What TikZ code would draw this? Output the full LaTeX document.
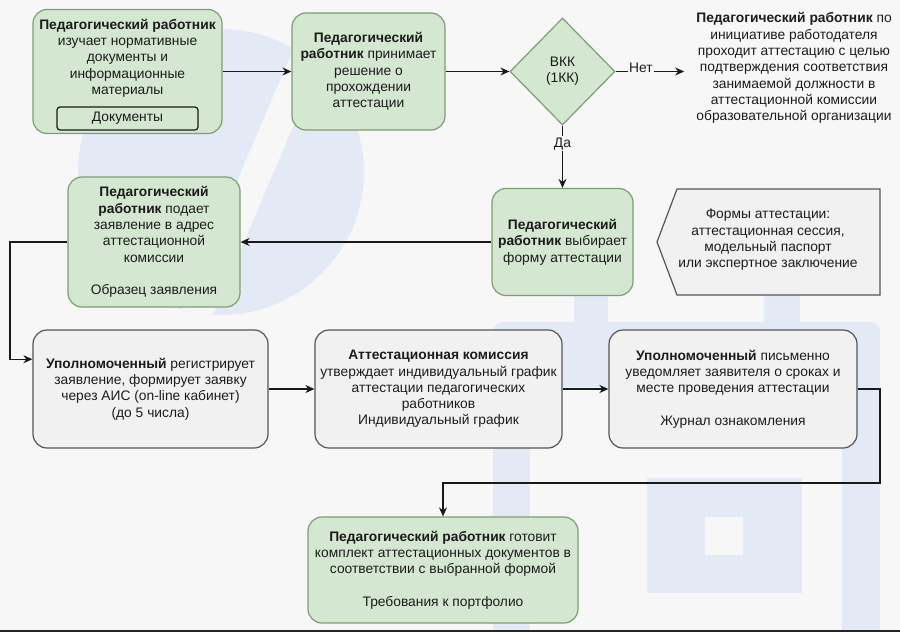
\documentclass[tikz,border=0pt]{standalone}
\usepackage{fontspec}
\setmainfont{Liberation Sans}
\usetikzlibrary{shapes.geometric,arrows.meta,calc}
\definecolor{bgc}{RGB}{247,247,247}
\definecolor{wm}{RGB}{227,234,246}
\definecolor{gfill}{RGB}{212,231,208}
\definecolor{gdraw}{RGB}{125,158,115}
\definecolor{grfill}{RGB}{241,241,241}
\definecolor{grdraw}{RGB}{85,85,85}
\definecolor{ln}{RGB}{25,25,25}
\definecolor{tx}{RGB}{28,28,28}
\begin{document}
\begin{tikzpicture}[x=1pt,y=-1pt,
  every node/.style={font=\fontsize{13.8}{16.3}\selectfont, text=tx, align=center, inner sep=0pt},
  gbox/.style={draw=gdraw, fill=gfill, line width=1.2pt, rounded corners=14pt},
  rbox/.style={draw=grdraw, fill=grfill, line width=1.2pt, rounded corners=14pt},
  conn/.style={draw=ln, line width=1.4pt, -{Stealth[length=9pt,width=8pt]}},
  lbl/.style={fill=bgc, inner sep=1.5pt}]
\useasboundingbox (0,0) rectangle (900,632);
\fill[bgc] (0,0) rectangle (900,632);
% watermark (left logo)
\begin{scope}
  \clip (221,172) circle (143);
  \fill[wm] (221,172) circle (143);
  \draw[bgc, line width=30pt] (322,20) -- (186,340);
\end{scope}
\fill[wm] (223,163) circle (19);
% watermark (right emblem)
\fill[wm] (574,280) rectangle (608,322);
\fill[wm] (764,280) rectangle (800,322);
\fill[wm, rounded corners=10pt] (493,322) rectangle (880,387);
\fill[wm] (493,340) rectangle (530,632);
\fill[wm] (842,340) rectangle (880,632);
\fill[wm] (647,478) rectangle (802,593);
\fill[bgc] (705,517) rectangle (743,555);
\fill[black!85] (0,629.5) rectangle (900,632);

% row 1
\node[gbox, minimum width=189pt, minimum height=124pt] (a) at (127.5,71.5) {};
\node (atext) at (127.5,58) {\textbf{Педагогический работник}\\изучает нормативные\\документы и\\информационные\\материалы};
\node[draw=ln, fill=gfill, line width=1.2pt, rounded corners=3pt, minimum width=141pt, minimum height=23pt] (adoc) at (127.5,118.5) {Документы};
\node[gbox, minimum width=153pt, minimum height=117pt] (b) at (368.5,71.5) {\textbf{Педагогический}\\\textbf{работник} принимает\\решение о\\прохождении\\аттестации};
\node[diamond, draw=gdraw, fill=gfill, line width=1.2pt, minimum width=105pt, minimum height=107pt] (dia) at (562.5,71.5) {ВКК\\(1КК)};
\node (rt) at (794,68) {\textbf{Педагогический работник} по\\инициативе работодателя\\проходит аттестацию с целью\\подтверждения соответствия\\занимаемой должности в\\аттестационной комиссии\\образовательной организации};

% row 2
\node[gbox, minimum width=172pt, minimum height=130pt] (d) at (154,242) {\textbf{Педагогический}\\\textbf{работник} подает\\заявление в адрес\\аттестационной\\комиссии\\[16.3pt]Образец заявления};
\node[gbox, minimum width=141pt, minimum height=107pt] (e) at (562.5,242) {\textbf{Педагогический}\\\textbf{работник} выбирает\\форму аттестации};
\draw[draw=grdraw, fill=grfill, line width=1.2pt] (677,189) -- (880,189) -- (880,295) -- (677,295) -- (657,242) -- cycle;
\node (g) at (768,240) {Формы аттестации:\\аттестационная сессия,\\модельный паспорт\\или экспертное заключение};

% row 3
\node[rbox, minimum width=235pt, minimum height=118pt] (f) at (150.5,389) {\textbf{Уполномоченный} регистрирует\\заявление, формирует заявку\\через АИС (on-line кабинет)\\(до 5 числа)};
\node[rbox, minimum width=247pt, minimum height=118pt] (h) at (438.5,389) {\textbf{Аттестационная комиссия}\\утверждает индивидуальный график\\аттестации педагогических\\работников\\Индивидуальный график};
\node[rbox, minimum width=248pt, minimum height=118pt] (i) at (733,389) {\textbf{Уполномоченный} письменно\\уведомляет заявителя о сроках и\\месте проведения аттестации\\[16.3pt]Журнал ознакомления};

% row 4
\node[gbox, minimum width=270pt, minimum height=106pt] (j) at (443,570) {\textbf{Педагогический работник} готовит\\комплект аттестационных документов в\\соответствии с выбранной формой\\[16.3pt]Требования к портфолио};

% connectors
\draw[conn] (a) -- (b);
\draw[conn] (b) -- (dia);
\draw[conn] (dia.east) -- node[lbl, pos=0.37, yshift=3.5pt] {Нет} ($(dia.east -| rt.west)+(-12,0)$);
\draw[conn] (dia) -- node[lbl, pos=0.29] {Да} (e);
\draw[conn] (e) -- (d);
\coordinate (c1) at (10,242);
\draw[conn] (d.west) -- (c1) |- ($(f.north west)!0.25!(f.south west)$);
\draw[conn] (f) -- (h);
\draw[conn] (h) -- (i);
\coordinate (c2) at (880,483);
\draw[conn] (i.east) -| (c2) -| (j.north);
\end{tikzpicture}
\end{document}
